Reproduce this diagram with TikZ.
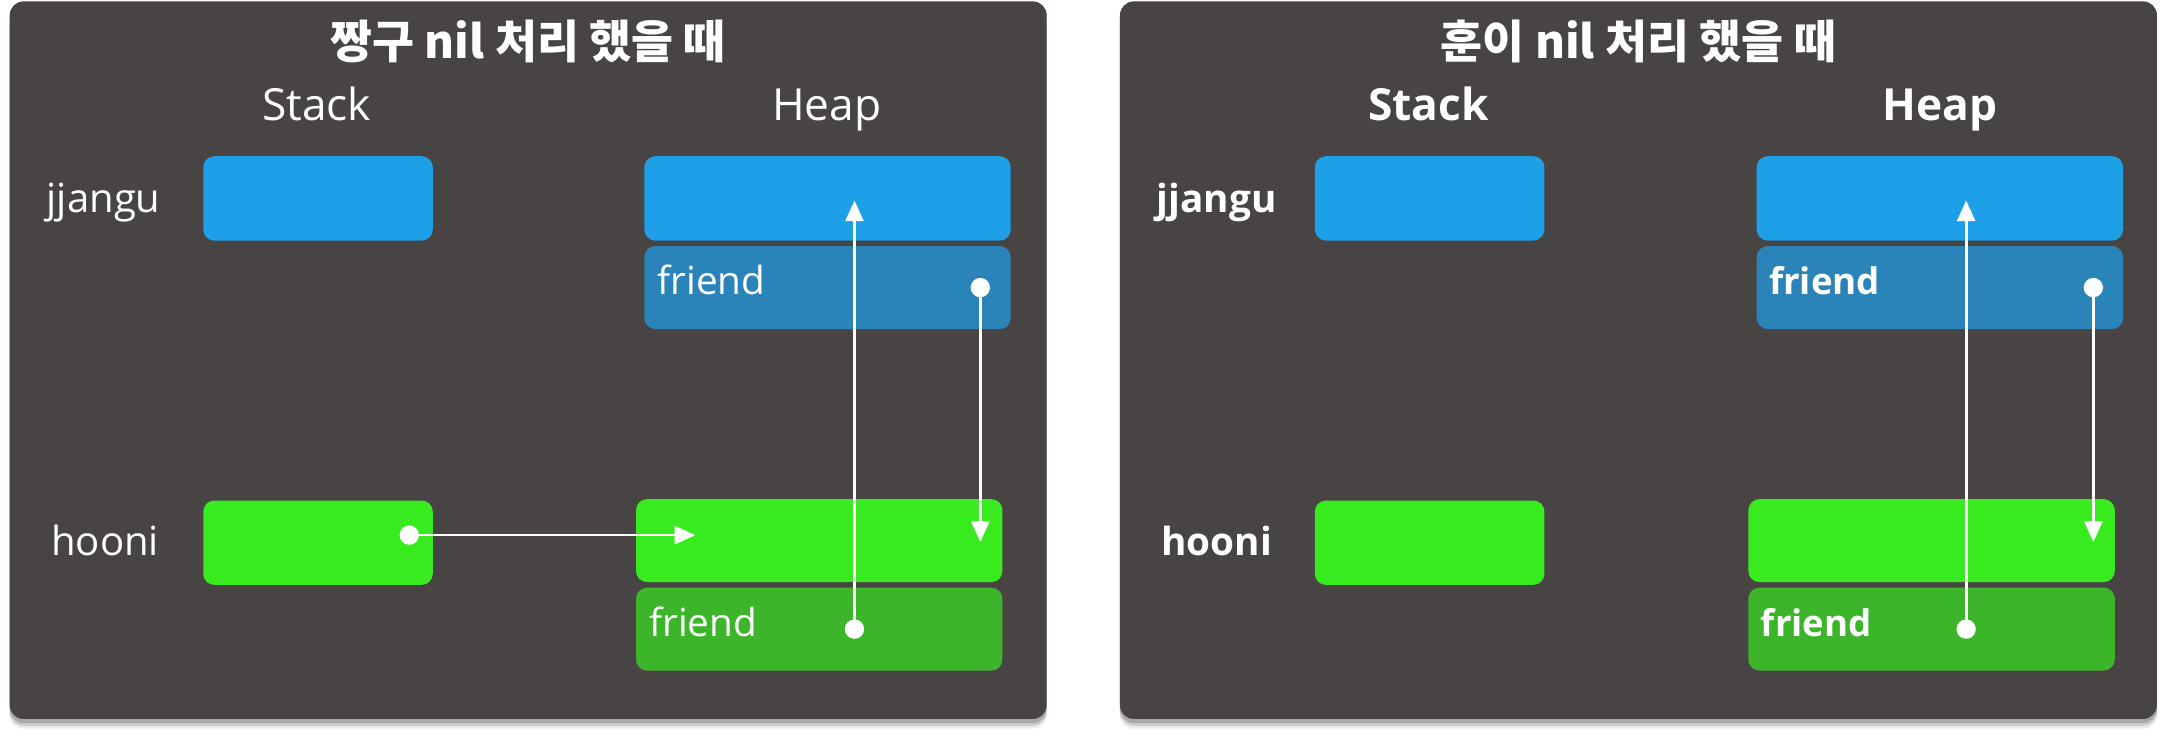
\documentclass[tikz,border=0pt]{standalone}
\usepackage{fontspec}
\setmainfont{Open Sans}
\newfontfamily\krfont{Noto Sans CJK KR}
\usetikzlibrary{arrows.meta}
\definecolor{panelgray}{RGB}{73,68,68}
\definecolor{skyblue}{RGB}{29,160,232}
\definecolor{deepblue}{RGB}{42,132,185}
\definecolor{limegreen}{RGB}{56,235,30}
\definecolor{leafgreen}{RGB}{60,181,42}

\begin{document}
\begin{tikzpicture}
  [x=1pt, y=-1pt,
   box/.style={rounded corners=8pt, minimum height=61pt, inner sep=0pt},
   stackbox/.style={box, minimum width=166pt},
   heapbox/.style={box, minimum width=265pt},
   titletext/.style={text=white, anchor=base, font=\krfont\bfseries\fontsize{33}{38}\selectfont},
   headtext/.style={text=white, anchor=base, font=\fontsize{32}{38}\selectfont},
   vartext/.style={text=white, anchor=base, font=\fontsize{29}{34}\selectfont},
   fieldtext/.style={text=white, anchor=base west, font=\fontsize{28}{34}\selectfont},
   dot/.style={circle, fill=white, minimum size=14pt, inner sep=0pt},
   ptr/.style={white, line width=2pt, -{Triangle[length=15pt,width=13pt]}}]
  \useasboundingbox (0,0) rectangle (1568,532.3);

  % left panel
  \foreach \dy/\op in {7/0.08,5/0.12,3/0.18}
    \fill[black, opacity=\op, rounded corners=10pt] (7,1+\dy) rectangle (757,520+\dy);
  \fill[panelgray, rounded corners=10pt] (7,1) rectangle (757,520);
  \node[titletext] (titleL) at (382,42) {짱구 nil 처리 했을 때};
  \node[headtext] (stackL) at (229,87) {Stack};
  \node[headtext] (heapL) at (598,87) {Heap};
  \node[vartext] (jjLabelL) at (75,154) {jjangu};
  \node[vartext] (hoLabelL) at (76,402) {hooni};
  \node[stackbox, fill=skyblue] (jjStackL) at (230,143.5) {};
  \node[stackbox, fill=limegreen] (hoStackL) at (230,392.5) {};
  \node[heapbox, fill=skyblue] (jjHeapL) at (598.5,143.5) {};
  \node[heapbox, fill=deepblue, minimum height=60pt] (jjFriendL) at (598.5,208) {};
  \node[heapbox, fill=limegreen, minimum height=60pt] (hoHeapL) at (592.5,391) {};
  \node[heapbox, fill=leafgreen, minimum height=60pt] (hoFriendL) at (592.5,455) {};
  \node[fieldtext] (jjFieldL) at (472,213) {friend};
  \node[fieldtext] (hoFieldL) at (466,460) {friend};
  \node[dot] (hoDotL) at (296,387) {};
  \node[dot] (jjDotL) at (709,208) {};
  \node[dot] (hfDotL) at (618,455) {};
  \coordinate (hoTipL) at (503,387);
  \coordinate (jjTipL) at (709,392);
  \coordinate (hfTipL) at (618,145);
  \draw[ptr] (hoDotL.center) -- (hoTipL);
  \draw[ptr] (jjDotL.center) -- (jjTipL);
  \draw[ptr] (hfDotL.center) -- (hfTipL);

  % right panel
  \begin{scope}[xshift=804pt]
    \foreach \dy/\op in {7/0.08,5/0.12,3/0.18}
      \fill[black, opacity=\op, rounded corners=10pt] (6,1+\dy) rectangle (756,520+\dy);
    \fill[panelgray, rounded corners=10pt] (6,1) rectangle (756,520);
    \node[titletext] (titleR) at (381,42) {훈이 nil 처리 했을 때};
    \node[headtext, font=\bfseries\fontsize{32}{38}\selectfont] (stackR) at (229,87) {Stack};
    \node[headtext, font=\bfseries\fontsize{32}{38}\selectfont] (heapR) at (599,87) {Heap};
    \node[vartext, font=\bfseries\fontsize{28}{34}\selectfont] (jjLabelR) at (76,154) {jjangu};
    \node[vartext, font=\bfseries\fontsize{28}{34}\selectfont] (hoLabelR) at (76,402) {hooni};
    \node[stackbox, fill=skyblue] (jjStackR) at (230,143.5) {};
    \node[stackbox, fill=limegreen] (hoStackR) at (230,392.5) {};
    \node[heapbox, fill=skyblue] (jjHeapR) at (599,143.5) {};
    \node[heapbox, fill=deepblue, minimum height=60pt] (jjFriendR) at (599,208) {};
    \node[heapbox, fill=limegreen, minimum height=60pt] (hoHeapR) at (593,391) {};
    \node[heapbox, fill=leafgreen, minimum height=60pt] (hoFriendR) at (593,455) {};
    \node[fieldtext, font=\bfseries\fontsize{26.5}{32}\selectfont] (jjFieldR) at (472,213) {friend};
    \node[fieldtext, font=\bfseries\fontsize{26.5}{32}\selectfont] (hoFieldR) at (466,460) {friend};
    \node[dot] (jjDotR) at (710,208) {};
    \node[dot] (hfDotR) at (618,455) {};
    \coordinate (jjTipR) at (710,392);
    \coordinate (hfTipR) at (618,145);
    \draw[ptr] (jjDotR.center) -- (jjTipR);
    \draw[ptr] (hfDotR.center) -- (hfTipR);
  \end{scope}
\end{tikzpicture}
\end{document}
